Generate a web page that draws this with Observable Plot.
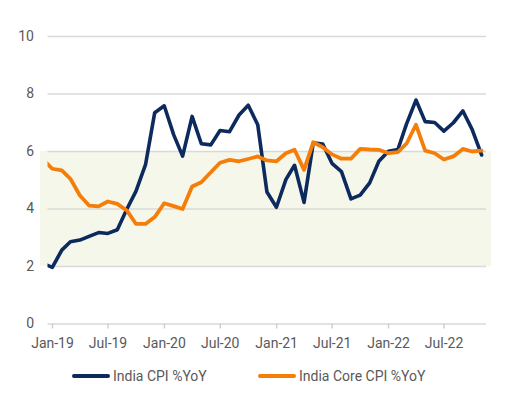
<!DOCTYPE html>
<html>
<head>
<meta charset="utf-8">
<script src="https://cdn.jsdelivr.net/npm/d3@7"></script>
<script src="https://cdn.jsdelivr.net/npm/@observablehq/plot@0.6"></script>
<style>
  html, body { margin: 0; padding: 0; background: #ffffff; }
  #chart { width: 517px; }
  .legend { position: relative; width: 517px; height: 50px; font-family: Roboto, "Liberation Sans", sans-serif; font-size: 14px; color: #595959; }
  .legend .item { position: absolute; top: 6px; display: flex; align-items: center; white-space: nowrap; }
  .legend .swatch { width: 38px; height: 4px; border-radius: 2px; margin-right: 3px; }
</style>
</head>
<body>
<div id="chart"></div>
<script>
// Monthly observations (year-month)
const months = [
  "2018-12",
  "2019-01","2019-02","2019-03","2019-04","2019-05","2019-06","2019-07","2019-08","2019-09","2019-10","2019-11","2019-12",
  "2020-01","2020-02","2020-03","2020-04","2020-05","2020-06","2020-07","2020-08","2020-09","2020-10","2020-11","2020-12",
  "2021-01","2021-02","2021-03","2021-04","2021-05","2021-06","2021-07","2021-08","2021-09","2021-10","2021-11","2021-12",
  "2022-01","2022-02","2022-03","2022-04","2022-05","2022-06","2022-07","2022-08","2022-09","2022-10","2022-11"
];

// Headline CPI inflation, % year on year
const cpiYoY = [
  2.11,
  1.97, 2.57, 2.86, 2.92, 3.05, 3.18, 3.15, 3.28, 3.99, 4.62, 5.54, 7.35,
  7.59, 6.58, 5.84, 7.22, 6.27, 6.23, 6.73, 6.69, 7.27, 7.61, 6.93, 4.59,
  4.06, 5.03, 5.52, 4.23, 6.30, 6.26, 5.59, 5.30, 4.35, 4.48, 4.91, 5.66,
  6.01, 6.07, 6.95, 7.79, 7.04, 7.01, 6.71, 7.00, 7.41, 6.77, 5.88
];

// Core CPI inflation, % year on year
const coreYoY = [
  5.73,
  5.40, 5.34, 5.05, 4.47, 4.12, 4.09, 4.26, 4.18, 3.95, 3.48, 3.48, 3.72,
  4.20, 4.10, 4.00, 4.78, 4.93, 5.28, 5.61, 5.71, 5.66, 5.74, 5.83, 5.69,
  5.66, 5.94, 6.06, 5.36, 6.32, 6.15, 5.90, 5.75, 5.75, 6.09, 6.07, 6.06,
  5.94, 5.98, 6.27, 6.93, 6.03, 5.94, 5.72, 5.83, 6.09, 6.00, 6.03
];

// RBI inflation tolerance band (%)
const targetBand = [2, 6];

// Axis ticks
const yTicks = [0, 2, 4, 6, 8, 10];
const xTicks = ["2019-01","2019-07","2020-01","2020-07","2021-01","2021-07","2022-01","2022-07"];

const seriesNames = ["India CPI %YoY", "India Core CPI %YoY"];
const seriesColors = ["#0c2a5e", "#f57e0a"];

// Each observation sits in the middle of its month
const midMonth = s => { const [y, m] = s.split("-").map(Number); return new Date(Date.UTC(y, m - 1, 15)); };
const monthStart = s => { const [y, m] = s.split("-").map(Number); return new Date(Date.UTC(y, m - 1, 1)); };

const cpi = months.map((m, i) => ({date: midMonth(m), value: cpiYoY[i]}));
const core = months.map((m, i) => ({date: midMonth(m), value: coreYoY[i]}));

const xStart = new Date(Date.UTC(2019, 0, 1));
const xEnd = new Date(Date.UTC(2022, 11, 1));

const font = 'Roboto, "Liberation Sans", sans-serif';
const textColor = "#595959";

const chart = Plot.plot({
  width: 517,
  height: 362,
  marginLeft: 47.5,
  marginRight: 31,
  marginTop: 36,
  marginBottom: 38.5,
  style: {fontFamily: font, fontSize: "14px", background: "#ffffff", color: textColor},
  x: {type: "utc", domain: [xStart, xEnd]},
  y: {domain: [0, 10]},
  marks: [
    // shaded tolerance band
    Plot.rect([targetBand], {
      x1: () => xStart, x2: () => xEnd,
      y1: d => d[0], y2: d => d[1],
      fill: "#f5f7ea",
      insetLeft: -7.5, insetRight: -5
    }),
    Plot.gridY(yTicks.filter(d => d > 0), {stroke: "#d9d9d9", strokeOpacity: 1, strokeWidth: 1.5}),
    Plot.ruleY([0], {stroke: "#d9d9d9", strokeWidth: 1.5}),
    Plot.axisY(yTicks, {
      tickSize: 0, tickPadding: 14, fontSize: 14, fill: textColor,
      label: null
    }),
    Plot.axisX(xTicks.map(monthStart), {
      tickSize: 5, tickPadding: 9, stroke: "#d0d0d0", strokeWidth: 1.5,
      fontSize: 14, fill: textColor, dx: 4.5,
      tickFormat: d3.utcFormat("%b-%y"),
      label: null
    }),
    Plot.line(cpi, {x: "date", y: "value", stroke: seriesColors[0], strokeWidth: 3.6, strokeLinejoin: "round", clip: true}),
    Plot.line(core, {x: "date", y: "value", stroke: seriesColors[1], strokeWidth: 3.8, strokeLinejoin: "round", clip: true})
  ]
});

const root = document.getElementById("chart");
root.appendChild(chart);

// Legend below the chart
const legend = document.createElement("div");
legend.className = "legend";
const legendLeft = [72, 258];
seriesNames.forEach((name, i) => {
  const item = document.createElement("div");
  item.className = "item";
  item.style.left = legendLeft[i] + "px";
  const sw = document.createElement("span");
  sw.className = "swatch";
  sw.style.background = seriesColors[i];
  const label = document.createElement("span");
  label.textContent = name;
  item.appendChild(sw);
  item.appendChild(label);
  legend.appendChild(item);
});
root.appendChild(legend);
</script>
</body>
</html>
